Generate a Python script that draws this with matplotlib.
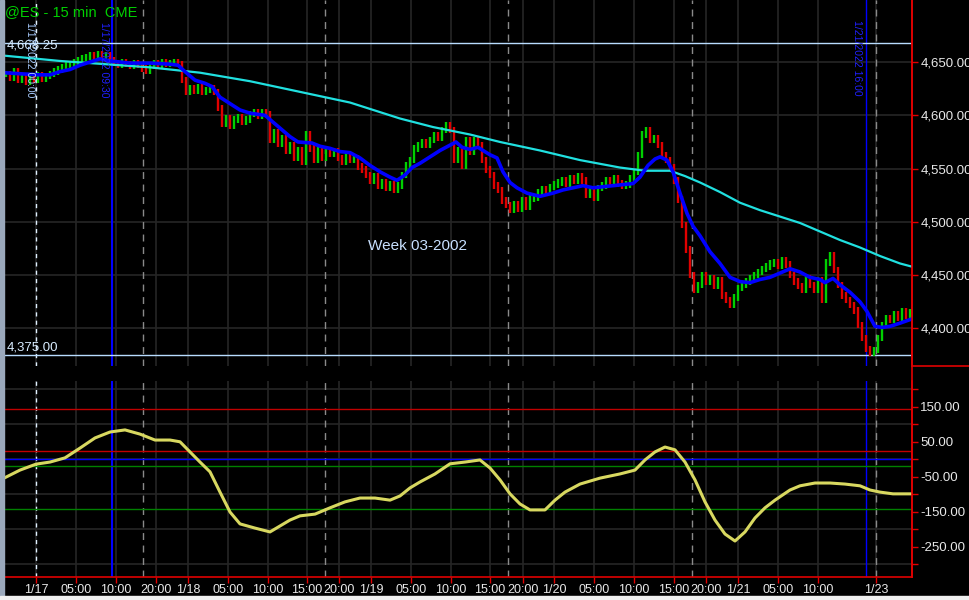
import numpy as np
import matplotlib
matplotlib.use("Agg")
import matplotlib.pyplot as plt
from matplotlib.lines import Line2D
from matplotlib.patches import Rectangle

plt.rcParams['font.family'] = ['Liberation Sans', 'DejaVu Sans']

# hourly closes, one every 2 bar slots (bar index = 2*i)
close = [4639, 4635, 4641, 4633, 4637, 4631, 4636, 4633, 4638, 4634, 4637, 4639,
         4641, 4643, 4645, 4647, 4648, 4650, 4652, 4654, 4655, 4656, 4655, 4657, 4655, 4656, 4652,
         4649, 4647, 4650, 4648, 4646, 4649, 4647, 4644, 4642,
         4646, 4649, 4647, 4650, 4648, 4649, 4650, 4648,
         4633, 4622, 4625, 4623, 4626, 4622, 4624, 4625, 4622,
         4607, 4592, 4597, 4590, 4596, 4598, 4594, 4596, 4601,
         4603, 4600, 4603, 4601,
         4577, 4584, 4573, 4579, 4567, 4572, 4560, 4567, 4556,
         4582, 4569, 4558, 4567, 4560, 4567, 4564, 4566,
         4560, 4556, 4562, 4558, 4560, 4552, 4549, 4544,
         4539, 4543, 4534, 4537, 4532, 4535, 4530, 4534,
         4544, 4553, 4558, 4569, 4572, 4575, 4572, 4577, 4581, 4579, 4586,
         4591, 4586, 4558, 4567, 4553, 4577, 4566,
         4577, 4572, 4558, 4549, 4544, 4534, 4530, 4520,
         4516, 4511, 4517, 4512, 4520, 4514, 4522, 4523,
         4528, 4531, 4529, 4533, 4535, 4537, 4539, 4536, 4541, 4539, 4543, 4539,
         4525, 4529, 4523, 4532, 4534,
         4539, 4537, 4541, 4536, 4534, 4535, 4541, 4547,
         4563, 4582, 4586, 4577, 4579, 4572,
         4563, 4558, 4551, 4539, 4521,
         4497, 4474, 4450, 4436, 4441,
         4450, 4444, 4447, 4440, 4445,
         4431, 4427, 4422, 4429,
         4438, 4441, 4444, 4447, 4450, 4453, 4456, 4458, 4461,
         4462, 4459, 4464, 4460, 4450,
         4444, 4440, 4436, 4447, 4441, 4436, 4445,
         4427, 4462, 4469, 4455,
         4441, 4431, 4427, 4422, 4417,
         4403, 4391, 4381, 4377, 4380,
         4391, 4403, 4410, 4408, 4413, 4410, 4416, 4412, 4415]

# fast moving average (blue)
fast_x = [0, 8, 18, 23, 28, 33, 38, 43, 48, 53, 63, 73, 83, 87, 90.5, 95.5, 100.5, 104,
          108, 113, 118, 123, 130.5, 133, 138, 143, 147, 154, 158, 163, 168, 173, 178,
          183, 188, 193, 196.5, 200.5, 204, 208, 213, 218, 223, 226, 229, 233, 237,
          239.5, 243, 246.5, 249.5, 253, 256.5, 261.5, 268, 274.5, 279.5, 289.5, 294.5,
          304.5, 314.5, 318, 322, 325.5, 328, 331.5, 334.5, 338, 341.5, 344.5, 348, 353,
          358, 363, 368, 373, 378, 383, 388, 393, 398, 403, 408, 410.5, 414.5, 418, 423,
          428, 431.5, 435.5, 439, 443, 448, 454]
fast_ma = [4640, 4639, 4638, 4638, 4641, 4643, 4647, 4650, 4653, 4651, 4649, 4649, 4648,
           4647, 4641, 4633, 4630, 4627, 4617, 4611, 4605, 4602, 4600, 4596, 4588, 4580,
           4575, 4574, 4571, 4569, 4566, 4565, 4560, 4553, 4547, 4542, 4539, 4544, 4551,
           4555, 4561, 4567, 4572, 4575, 4570, 4568, 4570, 4567, 4563, 4560, 4547, 4537,
           4532, 4527, 4524, 4527, 4530, 4534, 4532, 4534, 4536, 4542, 4553, 4559, 4561,
           4558, 4547, 4527, 4508, 4496, 4487, 4472, 4461, 4448, 4444, 4443, 4446, 4448,
           4452, 4456, 4453, 4448, 4446, 4443, 4447, 4441, 4434, 4425, 4416, 4402, 4401,
           4402, 4405, 4409]

# slow moving average (cyan)
slow_x = [0, 28, 58, 73, 98, 123, 148, 173, 198, 214.5, 233, 248, 268, 288, 308, 320.5,
          333, 340.5, 348, 358, 368, 378, 388, 398, 408, 418, 428, 438, 448, 454]
slow_ma = [4656, 4651, 4647, 4645, 4640, 4632, 4622, 4612, 4597, 4589, 4582, 4575, 4567,
           4558, 4551, 4548, 4548, 4543, 4537, 4528, 4518, 4511, 4505, 4499, 4491, 4483,
           4476, 4468, 4461, 4458]

# oscillator (yellow)
osc_x = [0, 8, 16, 23, 30.5, 38, 45.5, 53, 60.5, 68, 75.5, 83, 88, 93, 98, 103, 108, 113,
         118, 125.5, 133, 138, 143, 148, 155.5, 163, 170.5, 178, 185.5, 193, 198, 203,
         208, 215.5, 223, 230.5, 238, 243, 248, 253, 258, 263, 270.5, 275.5, 280.5, 288,
         298, 308, 315.5, 320.5, 325.5, 330.5, 335.5, 340.5, 345.5, 350.5, 355.5, 360.5,
         365.5, 370.5, 375.5, 380.5, 385.5, 393, 398, 405.5, 413, 420.5, 428, 433, 438,
         444.5, 454]
osc = [-54, -31, -14, -8, 4, 32, 61, 78, 84, 72, 55, 55, 50, 21, -8, -36, -94, -151,
       -185, -197, -208, -191, -174, -162, -157, -139, -122, -111, -111, -117, -105, -82,
       -65, -42, -13, -8, -2, -25, -59, -99, -128, -145, -145, -117, -94, -71, -54, -42,
       -31, -2, 21, 35, 27, -8, -59, -122, -174, -214, -234, -208, -168, -139, -117, -88,
       -76, -68, -68, -71, -76, -88, -94, -99, -99]

tick_pos = [16, 36, 56, 76, 92, 112, 132, 151.5, 167.5, 183.5, 203.5, 223.5, 243, 259.5,
            275, 295, 315, 335, 351, 367, 387, 407, 436]
tick_lab = ['1/17', '05:00', '10:00', '20:00', '1/18', '05:00', '10:00', '15:00', '20:00',
            '1/19', '05:00', '10:00', '15:00', '20:00', '1/20', '05:00', '10:00', '15:00',
            '20:00', '1/21', '05:00', '10:00', '1/23']
session_lines = [69.5, 160.5, 252, 344, 436]
price_ticks = [4400, 4450, 4500, 4550, 4600, 4650]
osc_ticks = [150, 50, -50, -150, -250]
osc_minor = [200, 100, 0, -100, -200, -300]
osc_levels = [143, 23, 0, -20, -143]
osc_level_colors = ['#c00000', '#c00000', '#0000ff', '#008000', '#008000']
hi_line = 4668.25
lo_line = 4375.00

W, H = 970, 600
fig = plt.figure(figsize=(W / 100, H / 100), dpi=100, facecolor='black')

def fx(px):
    return px / W

def fy(py):
    return 1 - py / H

ax1 = fig.add_axes([fx(4), fy(366), fx(908), 366 / H], facecolor='black')
ax2 = fig.add_axes([fx(4), fy(577), fx(908), 196 / H], facecolor='black', sharex=ax1)

xmax = 454
ax1.set_xlim(0, xmax)
ax1.set_ylim(4364.8, 4708.2)
ax2.set_ylim(-337, 224)

grid_c = '#262626'
for ax in (ax1, ax2):
    for t in tick_pos:
        ax.axvline(t, color=grid_c, lw=1.2, zorder=0)
    for s in session_lines:
        ax.axvline(s, color='#8a8a8a', lw=1, ls=(0, (5, 4)), zorder=1)
    ax.axvline(16, color='#e0f0ff', lw=1, ls=(0, (3, 3)), zorder=1)
    ax.axvline(54, color='#0000ff', lw=1.5, zorder=1)
    ax.axvline(431, color='#0000ff', lw=1, zorder=1)
    for sp in ['top', 'left']:
        ax.spines[sp].set_visible(False)
    ax.spines['right'].set_color('#e00000')
    ax.spines['right'].set_linewidth(1.2)
    ax.yaxis.tick_right()
    ax.tick_params(axis='y', which='both', colors='#e00000', labelcolor='#e8e8e8',
                   length=4, width=1, labelsize=9.5, pad=2)

# top panel
for p in price_ticks:
    ax1.axhline(p, color=grid_c, lw=1.2, zorder=0)
ax1.axhline(hi_line, color='#b8dcff', lw=1, zorder=2)
ax1.axhline(lo_line, color='#b8dcff', lw=1, zorder=2)
ax1.spines['bottom'].set_visible(False)
ax1.tick_params(axis='x', bottom=False, labelbottom=False)
ax1.set_yticks(price_ticks)
ax1.set_yticklabels(['{:,.2f}'.format(p) for p in price_ticks])

c = np.array(close, dtype=float)
bx = np.arange(len(c)) * 2 + 1
op = np.r_[c[0], c[:-1]]
lo = np.minimum(op, c) - 3
hi = np.maximum(op, c) + 3
cols = np.where(c >= op, '#00d000', '#e00000')
ax1.vlines(bx, lo, hi, colors=cols, lw=1.7, zorder=3)

ax1.plot(slow_x, slow_ma, color='#20e0e0', lw=1.6, zorder=4)
ax1.plot(fast_x, fast_ma, color='#0000ff', lw=2.6, zorder=5, solid_capstyle='round')

# bottom panel
for v in osc_minor:
    ax2.axhline(v, color=grid_c, lw=1.2, zorder=0)
for v, col in zip(osc_levels, osc_level_colors):
    ax2.axhline(v, color=col, lw=1, zorder=2)
ax2.plot(osc_x, osc, color='#d8d860', lw=2.2, zorder=4)
ax2.set_yticks(osc_ticks)
ax2.set_yticklabels(['{:.2f}'.format(v) for v in osc_ticks])
ax2.set_yticks(osc_minor, minor=True)
ax2.spines['bottom'].set_color('#e00000')
ax2.spines['bottom'].set_linewidth(1.2)
ax2.set_xticks(tick_pos)
ax2.set_xticklabels(tick_lab)
ax2.tick_params(axis='x', colors='#e00000', labelcolor='#e8e8e8', length=4, width=1,
                labelsize=9, pad=1)

# frame pieces outside the axes
fig.add_artist(Line2D([fx(912), fx(912)], [fy(0), fy(577)], color='#e00000', lw=1.2))
fig.add_artist(Line2D([fx(912), 1], [fy(366), fy(366)], color='#e00000', lw=1.2))
fig.add_artist(Rectangle((0, 0), fx(4), 1, color='#9aa8bb', transform=fig.transFigure))
fig.add_artist(Rectangle((0, 0), 1, 4 / H, color='#f0f0f0', transform=fig.transFigure))

# texts
fig.text(fx(5), fy(12), '@ES - 15 min  CME', color='#00d000', fontsize=10.5, va='center', ha='left')
fig.text(fx(7), fy(45), '4,668.25', color='#d8ecff', fontsize=9.5, va='center', ha='left')
fig.text(fx(7), fy(347), '4,375.00', color='#d8ecff', fontsize=9.5, va='center', ha='left')
fig.text(fx(417), fy(246), 'Week 03-2002', color='#c8e0ff', fontsize=11, va='center', ha='center')
fig.text(fx(30), fy(22), '1/17/2022 00:00', color='#a8ccff', fontsize=7.5, rotation=-90,
         va='top', ha='center')
fig.text(fx(104), fy(22), '1/17/2022 09:30', color='#2020ff', fontsize=7.5, rotation=-90,
         va='top', ha='center')
fig.text(fx(857), fy(20), '1/21/2022 16:00', color='#2020ff', fontsize=7.5, rotation=-90,
         va='top', ha='center')

fig.savefig('out.png', dpi=100, facecolor='black')
